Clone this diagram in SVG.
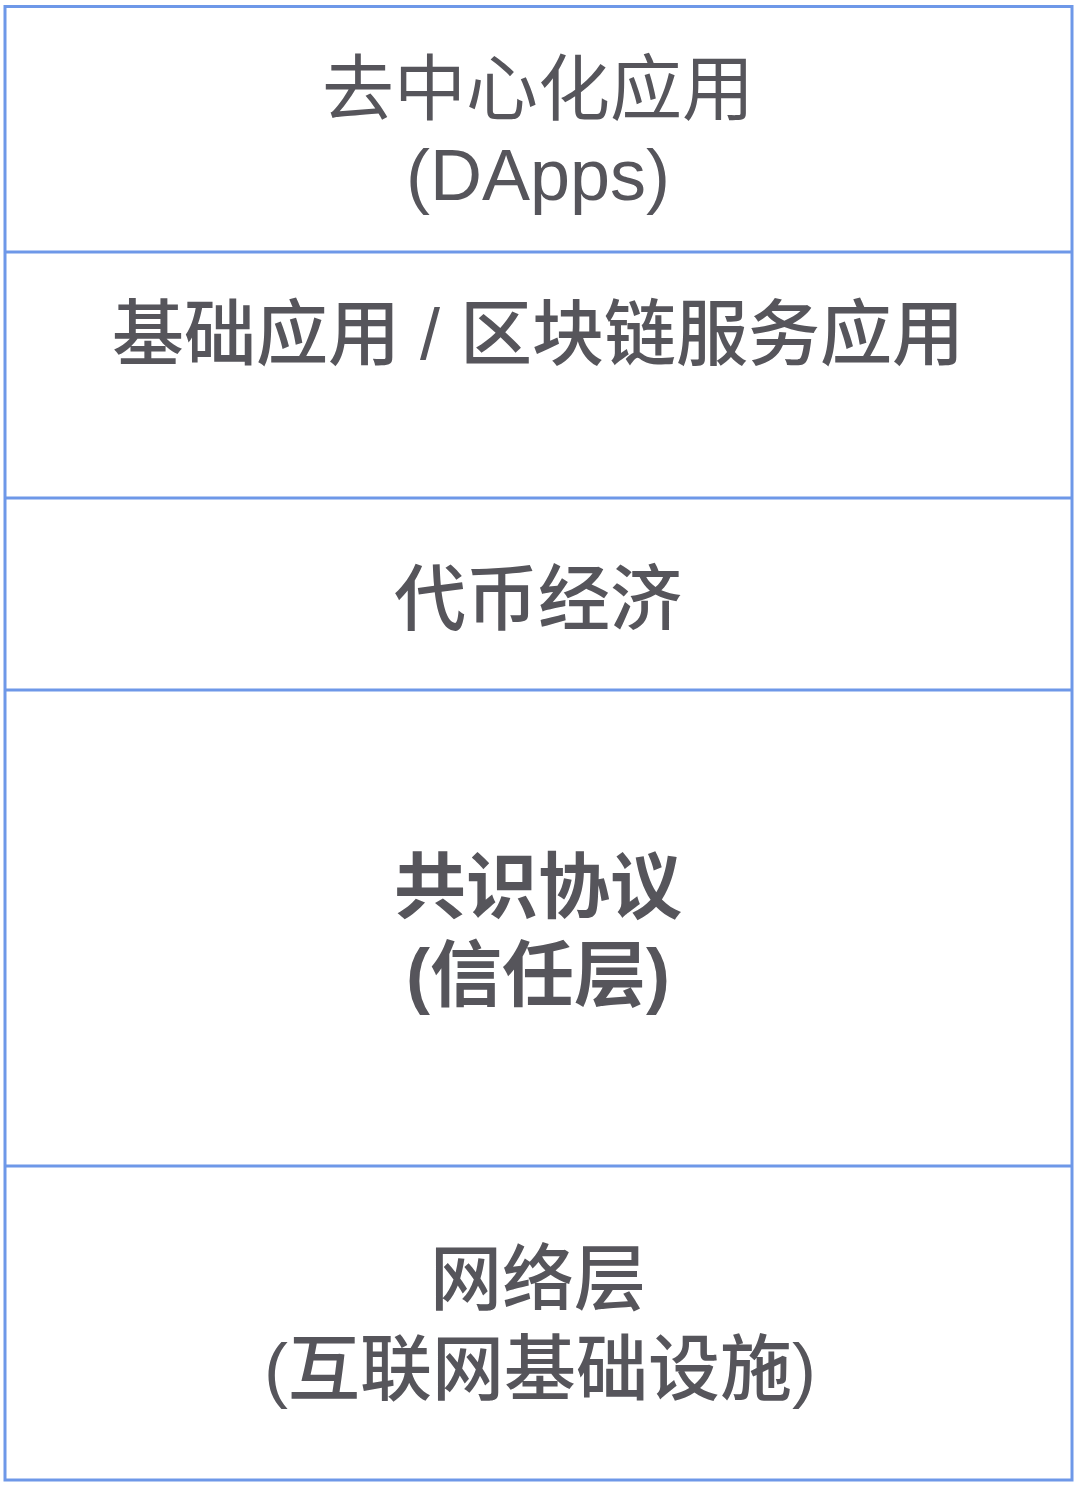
<svg xmlns="http://www.w3.org/2000/svg" width="1080" height="1492" viewBox="0 0 1080 1492">
<style>
.t{font-family:"Liberation Sans","Noto Sans CJK SC",sans-serif;font-size:72px;fill:#56555b;text-anchor:middle}
.m{font-weight:500}
.b{font-weight:bold}
.ln{stroke:#6e98e8;stroke-width:3;fill:none}
</style>
<rect width="1080" height="1492" fill="#ffffff"/>
<g id="frame"><rect class="ln" x="5" y="6.5" width="1067" height="1473.5"/></g>
<g id="connectors">
<line class="ln" x1="5" y1="252" x2="1072" y2="252"/>
<line class="ln" x1="5" y1="498" x2="1072" y2="498"/>
<line class="ln" x1="5" y1="690" x2="1072" y2="690"/>
<line class="ln" x1="5" y1="1166" x2="1072" y2="1166"/>
</g>
<g id="dapps"><text class="t" x="538" y="114">去中心化应用</text><text class="t" x="538" y="200">(DApps)</text></g>
<g id="base-apps"><text class="t m" x="538" y="359" textLength="852" lengthAdjust="spacing">基础应用 / 区块链服务应用</text></g>
<g id="token"><text class="t m" x="538" y="624">代币经济</text></g>
<g id="consensus"><text class="t b" x="538" y="912">共识协议</text><text class="t b" x="538" y="1000">(信任层)</text></g>
<g id="network"><text class="t m" x="538" y="1304">网络层</text><text class="t m" x="540" y="1394">(互联网基础设施)</text></g>
</svg>
